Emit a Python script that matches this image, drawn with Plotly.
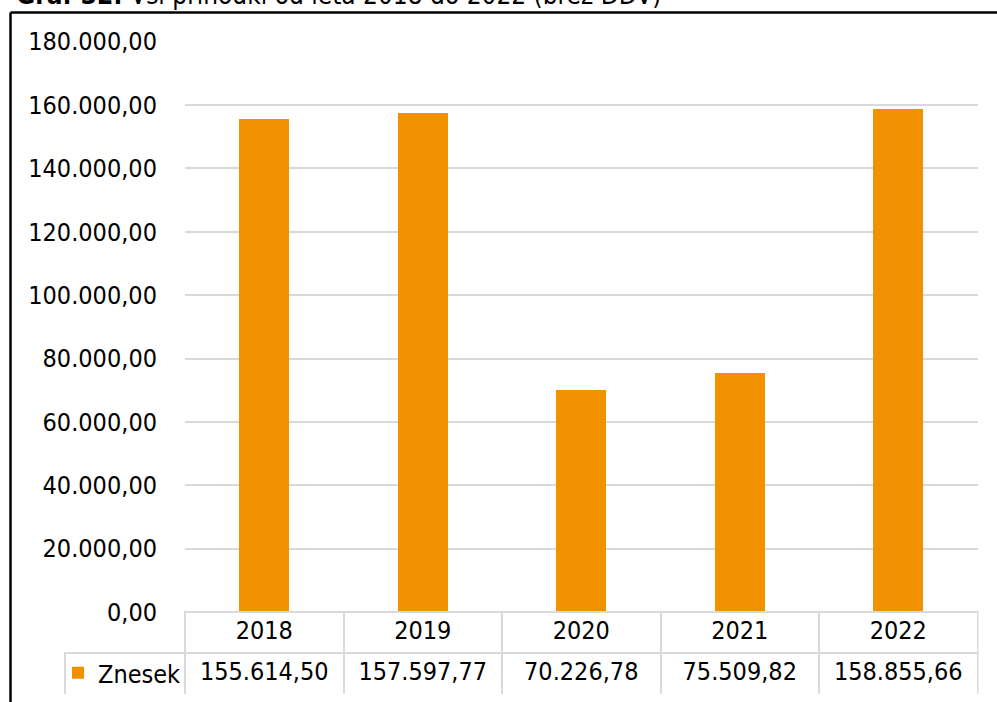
import plotly.graph_objects as go

years = ["2018", "2019", "2020", "2021", "2022"]
znesek = [155614.50, 157597.77, 70226.78, 75509.82, 158855.66]
series_name = "Znesek"
y_ticks = [0, 20000, 40000, 60000, 80000, 100000, 120000, 140000, 160000, 180000]
title_bold = "Graf 32:"
title_rest = "Vsi prihodki od leta 2018 do 2022 (brez DDV)"

ORANGE = "#F29100"
GRID = "#D9D9D9"
FONT = "DejaVu Sans Condensed, Liberation Sans, sans-serif"
W, H = 997, 702

# plot area edges in pixels (measured on the reference)
left, right = 185, 977.5
top, bottom = 41.5, 612
legend_left = 64.5
table_bottom = 694.5


def sl_num(v):
    # Slovenian number format: 155.614,50
    return f"{v:,.2f}".replace(",", "X").replace(".", ",").replace("X", ".")


fig = go.Figure()

fig.add_trace(
    go.Bar(
        x=years,
        y=znesek,
        name=series_name,
        marker=dict(color=ORANGE, line=dict(width=0)),
        width=0.315,
        showlegend=True,
    )
)

# data table under the chart (years + values), like Excel's data table
col_w = (right - left) / len(years)
fig.add_trace(
    go.Table(
        domain=dict(x=[legend_left / W, right / W], y=[(H - table_bottom) / H, (H - bottom) / H]),
        columnwidth=[left - legend_left] + [col_w] * len(years),
        header=dict(
            values=[""] + years,
            height=41,
            align="center",
            fill=dict(color=["rgba(0,0,0,0)"] + ["white"] * len(years)),
            line=dict(color=["rgba(0,0,0,0)"] + [GRID] * len(years), width=2),
            font=dict(family=FONT, size=25, color="black"),
        ),
        cells=dict(
            values=[[""]] + [[sl_num(v)] for v in znesek],
            height=42,
            align="center",
            fill=dict(color="white"),
            line=dict(color=GRID, width=2),
            font=dict(family=FONT, size=25, color="black"),
        ),
    )
)

# frame lines (left and top) and the cut-off caption above
fig.add_shape(type="line", xref="paper", yref="paper", x0=10.5 / W, x1=10.5 / W,
              y0=0, y1=1 - 12.5 / H, line=dict(color="black", width=2.5))
fig.add_shape(type="line", xref="paper", yref="paper", x0=10.5 / W, x1=1,
              y0=1 - 12.5 / H, y1=1 - 12.5 / H, line=dict(color="black", width=2.5))
fig.add_annotation(
    text=f"<b>{title_bold}</b> {title_rest}",
    xref="paper", yref="paper", x=14 / W, y=1 - 12 / H,
    xanchor="left", yanchor="bottom", showarrow=False,
    font=dict(family=FONT, size=26, color="black"),
)

fig.update_layout(
    width=W,
    height=H,
    margin=dict(l=0, r=0, t=0, b=0, autoexpand=False),
    paper_bgcolor="white",
    plot_bgcolor="white",
    separators=",.",
    bargap=0,
    legend=dict(
        x=58 / W, y=(H - 673) / H, xanchor="left", yanchor="middle",
        bgcolor="rgba(0,0,0,0)", borderwidth=0,
        font=dict(family=FONT, size=25, color="black"),
        itemwidth=30,
    ),
    xaxis=dict(
        domain=[left / W, right / W],
        showticklabels=False,
        showgrid=False,
        zeroline=False,
        showline=False,
        ticks="",
        automargin=False,
    ),
    yaxis=dict(
        domain=[(H - bottom) / H, (H - top) / H],
        range=[0, 180050],
        tickvals=y_ticks,
        tickformat=",.2f",
        showgrid=True,
        gridcolor=GRID,
        gridwidth=2,
        zeroline=False,
        showline=False,
        ticks="",
        ticklabelstandoff=27,
        automargin=False,
        tickfont=dict(family=FONT, size=25, color="black"),
    ),
)

fig.write_html(
    "out.html",
    config={"displayModeBar": False},
    post_script="document.body.style.margin='0';",
)
